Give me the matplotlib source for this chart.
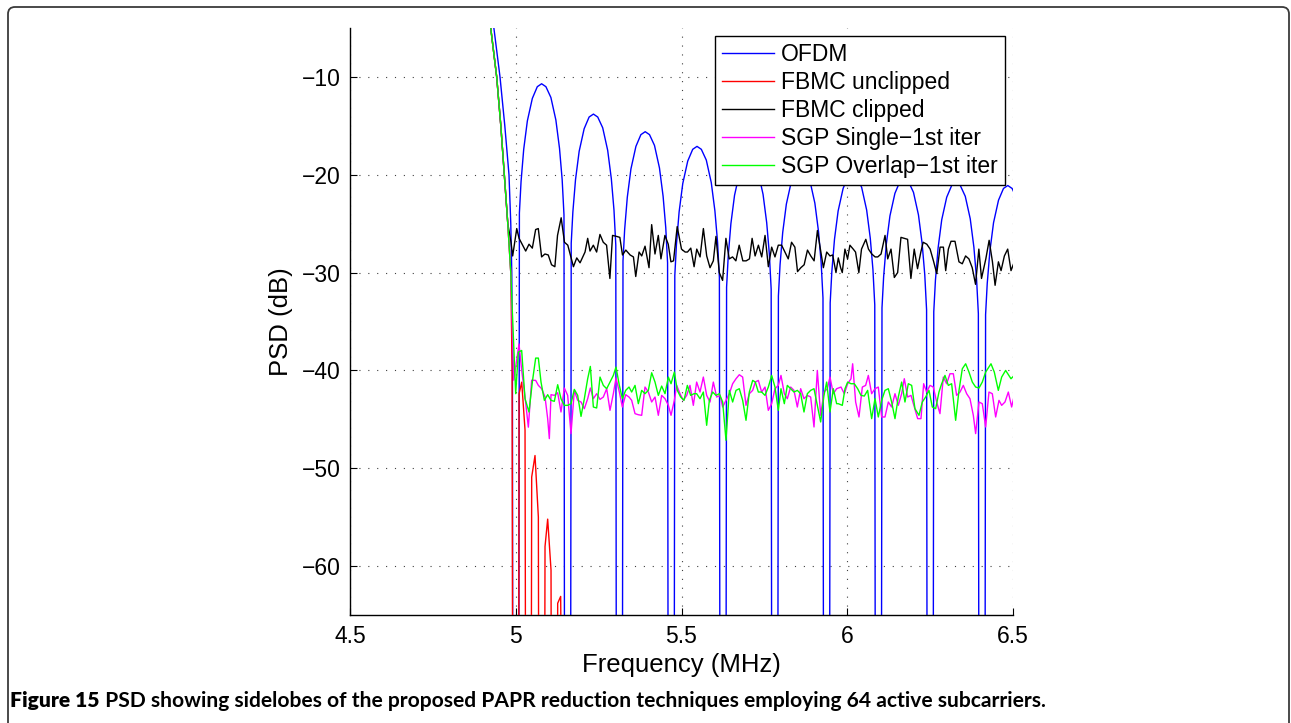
import numpy as np
import matplotlib
matplotlib.use("Agg")
import matplotlib.pyplot as plt
from matplotlib.patches import FancyBboxPatch

plt.rcParams['font.family'] = ['Liberation Sans', 'DejaVu Sans']

# ---------------- data ----------------
series_names = ["OFDM", "FBMC unclipped", "FBMC clipped",
                "SGP Single\u22121st iter", "SGP Overlap\u22121st iter"]
xtick_vals = [4.5, 5.0, 5.5, 6.0, 6.5]
xtick_labels = ["4.5", "5", "5.5", "6", "6.5"]
ytick_vals = [-60, -50, -40, -30, -20, -10]
ytick_labels = ["\u221260", "\u221250", "\u221240", "\u221230", "\u221220", "\u221210"]

# OFDM: main lobe edge + sidelobes (each lobe ends in a null far below the axis)
ofdm_main_f = [4.915, 4.934, 4.9525, 4.967, 4.9796, 4.985, 4.988, 4.990, 4.9913]
ofdm_main_p = [-1.5, -5.0, -10.0, -15.0, -20.0, -25.0, -30.0, -40.0, -90.0]

ofdm_lobes_f = [
    [5.0087, 5.011, 5.016, 5.024, 5.035, 5.050, 5.065, 5.078, 5.091, 5.106, 5.121, 5.132, 5.140, 5.1455, 5.1476],
    [5.1650, 5.1673, 5.1723, 5.1803, 5.1913, 5.2063, 5.2213, 5.2343, 5.2473, 5.2623, 5.2773, 5.2883, 5.2963, 5.3018, 5.3039],
    [5.3212, 5.3235, 5.3285, 5.3365, 5.3475, 5.3625, 5.3775, 5.3905, 5.4035, 5.4185, 5.4335, 5.4445, 5.4525, 5.4580, 5.4601],
    [5.4775, 5.4798, 5.4848, 5.4928, 5.5038, 5.5188, 5.5338, 5.5468, 5.5598, 5.5748, 5.5898, 5.6008, 5.6088, 5.6143, 5.6164],
    [5.6337, 5.6360, 5.6410, 5.6490, 5.6600, 5.6750, 5.6900, 5.7030, 5.7160, 5.7310, 5.7460, 5.7570, 5.7650, 5.7705, 5.7726],
    [5.7900, 5.7923, 5.7973, 5.8053, 5.8163, 5.8313, 5.8463, 5.8593, 5.8723, 5.8873, 5.9023, 5.9133, 5.9213, 5.9268, 5.9289],
    [5.9462, 5.9485, 5.9535, 5.9615, 5.9725, 5.9875, 6.0025, 6.0155, 6.0285, 6.0435, 6.0585, 6.0695, 6.0775, 6.0830, 6.0851],
    [6.1025, 6.1048, 6.1098, 6.1178, 6.1288, 6.1438, 6.1588, 6.1718, 6.1848, 6.1998, 6.2148, 6.2258, 6.2338, 6.2393, 6.2414],
    [6.2587, 6.2610, 6.2660, 6.2740, 6.2850, 6.3000, 6.3150, 6.3280, 6.3410, 6.3560, 6.3710, 6.3820, 6.3900, 6.3955, 6.3976],
    [6.4150, 6.4173, 6.4223, 6.4303, 6.4413, 6.4563, 6.4713, 6.4843, 6.4973, 6.5123],
]
ofdm_lobes_p = [
    [-90, -23.9, -20.7, -17.4, -14.5, -12.2, -11.0, -10.7, -11.0, -12.1, -14.4, -17.3, -20.5, -24.1, -90],
    [-90, -27.0, -23.8, -20.5, -17.6, -15.3, -14.1, -13.8, -14.1, -15.2, -17.5, -20.4, -23.6, -27.2, -90],
    [-90, -28.8, -25.6, -22.3, -19.4, -17.1, -15.9, -15.6, -15.9, -17.0, -19.3, -22.2, -25.4, -29.0, -90],
    [-90, -30.3, -27.1, -23.8, -20.9, -18.6, -17.4, -17.1, -17.4, -18.5, -20.8, -23.7, -26.9, -30.5, -90],
    [-90, -31.5, -28.3, -25.0, -22.1, -19.8, -18.6, -18.3, -18.6, -19.7, -22.0, -24.9, -28.1, -31.7, -90],
    [-90, -32.4, -29.2, -25.9, -23.0, -20.7, -19.5, -19.2, -19.5, -20.6, -22.9, -25.8, -29.0, -32.6, -90],
    [-90, -33.1, -29.9, -26.6, -23.7, -21.4, -20.2, -19.9, -20.2, -21.3, -23.6, -26.5, -29.7, -33.3, -90],
    [-90, -33.6, -30.4, -27.1, -24.2, -21.9, -20.7, -20.4, -20.7, -21.8, -24.1, -27.0, -30.2, -33.8, -90],
    [-90, -34.0, -30.8, -27.5, -24.6, -22.3, -21.1, -20.8, -21.1, -22.2, -24.5, -27.4, -30.6, -34.2, -90],
    [-90, -34.3, -31.1, -27.8, -24.9, -22.6, -21.4, -21.1, -21.4, -22.5],
]

# common band edge of the filtered signals
edge_f = [4.905, 4.9245, 4.9425, 4.955, 4.9655, 4.976, 4.985]
edge_p = [-1.0, -5.0, -10.0, -15.0, -20.0, -25.0, -30.0]

# FBMC unclipped: edge, then a few decaying spikes
fbmc_u_segments_f = [
    [4.989, 4.9915],
    [5.0085, 5.0100, 5.0180, 5.0280, 5.0305],
    [5.0459, 5.0481, 5.0581, 5.0682, 5.0702],
    [5.0863, 5.0883, 5.0963, 5.1064, 5.1084],
    [5.1245, 5.1265, 5.1355, 5.1416],
]
fbmc_u_segments_p = [
    [-40.0, -90.0],
    [-90.0, -42.4, -41.2, -46.1, -90.0],
    [-90.0, -50.9, -48.7, -55.0, -90.0],
    [-90.0, -58.0, -55.2, -60.4, -90.0],
    [-90.0, -63.8, -63.1, -90.0],
]

# FBMC clipped
fbmc_c_f = [4.905, 4.9245, 4.9425, 4.955, 4.9655, 4.976, 4.9857, 4.9907, 5.003, 5.010,
            5.030, 5.040, 5.050, 5.060, 5.068, 5.078, 5.088, 5.098, 5.108, 5.118,
            5.126, 5.137, 5.147, 5.157, 5.174, 5.184, 5.194, 5.209, 5.217, 5.224,
            5.234, 5.244, 5.254, 5.264, 5.274, 5.284, 5.292, 5.304, 5.314, 5.322,
            5.332, 5.345, 5.355, 5.362, 5.372, 5.380, 5.390, 5.402, 5.410, 5.420,
            5.430, 5.438, 5.450, 5.460, 5.468, 5.476, 5.487, 5.500, 5.511, 5.518,
            5.528, 5.538, 5.546, 5.556, 5.566, 5.576, 5.586, 5.596, 5.604, 5.614,
            5.624, 5.634, 5.644, 5.654, 5.664, 5.674, 5.685, 5.695, 5.705, 5.713,
            5.722, 5.732, 5.742, 5.752, 5.762, 5.772, 5.782, 5.792, 5.802, 5.812,
            5.822, 5.832, 5.842, 5.850, 5.860, 5.870, 5.880, 5.890, 5.900, 5.910,
            5.918, 5.928, 5.938, 5.948, 5.956, 5.966, 5.973, 5.980, 5.985, 5.993,
            6.001, 6.008, 6.018, 6.025, 6.035, 6.043, 6.056, 6.064, 6.074, 6.084,
            6.092, 6.102, 6.114, 6.122, 6.132, 6.142, 6.152, 6.162, 6.172, 6.182,
            6.192, 6.202, 6.212, 6.222, 6.229, 6.240, 6.250, 6.260, 6.270, 6.280,
            6.290, 6.297, 6.305, 6.313, 6.325, 6.337, 6.347, 6.357, 6.367, 6.377,
            6.387, 6.397, 6.405, 6.418, 6.428, 6.438, 6.446, 6.456, 6.464, 6.474,
            6.484, 6.494, 6.504]
fbmc_c_p = [-1.0, -5.0, -10.0, -15.0, -20.0, -25.0, -26.9, -28.3, -25.5, -26.5,
            -27.8, -27.1, -27.5, -25.6, -25.5, -28.4, -28.1, -28.2, -29.2, -29.4,
            -26.2, -24.4, -26.9, -27.2, -29.4, -28.5, -29.0, -27.9, -26.5, -27.8,
            -27.2, -27.9, -26.1, -26.9, -27.2, -30.6, -26.2, -26.3, -26.4, -28.2,
            -27.7, -28.2, -28.4, -30.4, -27.9, -28.3, -27.3, -29.5, -25.1, -28.1,
            -26.2, -28.6, -26.2, -27.1, -28.9, -28.8, -25.3, -27.6, -27.9, -27.9,
            -27.5, -29.4, -27.6, -28.4, -25.5, -28.3, -29.5, -28.8, -26.3, -30.0,
            -30.8, -26.5, -28.6, -28.4, -28.8, -27.2, -28.8, -28.8, -28.6, -26.5,
            -28.3, -27.2, -28.4, -26.2, -29.4, -27.4, -28.4, -27.2, -27.2, -27.9,
            -28.6, -26.9, -27.4, -29.9, -29.5, -29.2, -27.7, -28.3, -28.8, -25.7,
            -27.4, -29.5, -27.9, -28.3, -28.2, -30.0, -28.5, -29.5, -30.0, -27.6,
            -28.6, -27.2, -27.6, -27.9, -30.0, -27.6, -26.6, -27.6, -28.1, -28.4,
            -28.4, -28.1, -26.2, -28.6, -27.6, -30.5, -30.0, -26.4, -26.5, -26.6,
            -30.6, -27.6, -29.6, -27.9, -26.9, -27.1, -27.6, -28.8, -30.1, -27.4,
            -27.4, -29.8, -27.6, -26.8, -26.8, -28.9, -29.1, -28.3, -28.6, -29.5,
            -31.2, -27.6, -30.6, -28.6, -26.7, -28.9, -31.3, -28.9, -29.8, -28.3,
            -27.6, -29.8, -28.9]

# SGP Single - 1st iter
sgp_s_f = [4.905, 4.9245, 4.9425, 4.955, 4.9655, 4.976, 4.985, 4.994, 5.0098, 5.018,
           5.028, 5.038, 5.048, 5.0601, 5.0682, 5.0782, 5.0883, 5.0963, 5.1013, 5.1064,
           5.1164, 5.1265, 5.1365, 5.1466, 5.1566, 5.1667, 5.1767, 5.1868, 5.1969, 5.2069,
           5.2170, 5.2250, 5.2341, 5.2441, 5.2542, 5.2642, 5.2743, 5.2843, 5.2944, 5.3024,
           5.3125, 5.3216, 5.3316, 5.3417, 5.3497, 5.3598, 5.3698, 5.3799, 5.3899, 5.4000,
           5.4100, 5.4201, 5.4301, 5.4402, 5.4503, 5.4603, 5.4684, 5.4784, 5.4854, 5.4955,
           5.5055, 5.5156, 5.5256, 5.5357, 5.5457, 5.5558, 5.5659, 5.5759, 5.5860, 5.5960,
           5.6061, 5.6161, 5.6242, 5.6342, 5.6443, 5.6543, 5.6644, 5.6744, 5.6845, 5.6946,
           5.7046, 5.7147, 5.7227, 5.7318, 5.7418, 5.7519, 5.7619, 5.7720, 5.7820, 5.7921,
           5.8001, 5.8102, 5.8192, 5.8293, 5.8393, 5.8494, 5.8595, 5.8695, 5.8796, 5.8896,
           5.8997, 5.9097, 5.9198, 5.9298, 5.9399, 5.9479, 5.9580, 5.9680, 5.9811, 5.9912,
           6.0012, 6.0113, 6.0163, 6.0253, 6.0354, 6.0455, 6.0555, 6.0636, 6.0736, 6.0837,
           6.0937, 6.1038, 6.1138, 6.1239, 6.1339, 6.1440, 6.1540, 6.1641, 6.1721, 6.1822,
           6.1923, 6.2023, 6.2124, 6.2224, 6.2305, 6.2395, 6.2496, 6.2596, 6.2697, 6.2797,
           6.2898, 6.2998, 6.3099, 6.3200, 6.3300, 6.3401, 6.3501, 6.3602, 6.3702, 6.3803,
           6.3873, 6.3974, 6.4074, 6.4175, 6.4275, 6.4376, 6.4477, 6.4577, 6.4658, 6.4758,
           6.4859, 6.4959, 6.5040]
sgp_s_p = [-1.0, -5.0, -10.0, -15.0, -20.0, -25.0, -30.0, -41.0, -37.3, -40.0,
           -42.7, -45.8, -41.0, -41.02, -41.53, -41.87, -42.72, -44.93, -46.97, -42.48,
           -42.55, -42.28, -44.25, -41.80, -42.55, -46.46, -42.04, -43.06, -43.23, -43.91,
           -42.89, -41.80, -42.89, -42.38, -42.96, -42.72, -41.87, -44.08, -42.38, -40.78,
           -42.21, -43.74, -42.48, -42.72, -43.06, -44.42, -44.53, -44.59, -41.70, -42.21,
           -43.23, -42.72, -44.59, -42.55, -42.89, -43.57, -44.59, -43.06, -41.53, -42.38,
           -43.06, -42.55, -41.53, -43.57, -41.19, -42.21, -40.68, -42.55, -43.23, -41.19,
           -42.72, -42.55, -43.74, -43.06, -42.38, -41.36, -40.85, -40.44, -40.68, -43.57,
           -42.38, -42.04, -41.19, -41.02, -42.21, -41.70, -44.08, -43.40, -41.87, -41.53,
           -40.51, -42.38, -42.89, -41.70, -42.04, -43.74, -41.87, -42.89, -42.55, -42.72,
           -45.78, -40.00, -44.59, -42.21, -41.87, -40.68, -42.38, -41.87, -41.70, -42.38,
           -41.36, -40.85, -39.32, -43.23, -44.76, -41.70, -41.53, -40.51, -42.38, -41.87,
           -41.70, -44.76, -44.76, -43.23, -43.74, -42.38, -43.57, -42.38, -40.85, -42.72,
           -42.55, -43.74, -44.93, -44.93, -41.36, -42.21, -41.53, -41.70, -43.23, -44.42,
           -40.68, -41.36, -40.34, -40.34, -42.55, -42.21, -41.53, -42.38, -42.89, -44.59,
           -46.46, -43.23, -43.40, -45.78, -42.21, -42.38, -44.76, -43.06, -43.57, -43.23,
           -42.21, -43.74, -42.55]

# SGP Overlap - 1st iter
sgp_o_f = [4.905, 4.9245, 4.9425, 4.955, 4.9655, 4.976, 4.985, 4.9998, 5.0078, 5.0179,
           5.0279, 5.0400, 5.0500, 5.0601, 5.0682, 5.0762, 5.0863, 5.0963, 5.1064, 5.1164,
           5.1265, 5.1365, 5.1466, 5.1566, 5.1667, 5.1767, 5.1868, 5.1969, 5.2069, 5.2170,
           5.2250, 5.2341, 5.2441, 5.2542, 5.2642, 5.2743, 5.2843, 5.2944, 5.3024, 5.3125,
           5.3216, 5.3316, 5.3417, 5.3497, 5.3598, 5.3698, 5.3799, 5.3899, 5.4000, 5.4100,
           5.4201, 5.4301, 5.4402, 5.4503, 5.4603, 5.4684, 5.4784, 5.4874, 5.4975, 5.5075,
           5.5176, 5.5276, 5.5377, 5.5457, 5.5558, 5.5659, 5.5759, 5.5840, 5.5940, 5.6041,
           5.6141, 5.6242, 5.6342, 5.6443, 5.6543, 5.6644, 5.6744, 5.6845, 5.6946, 5.7046,
           5.7147, 5.7227, 5.7318, 5.7418, 5.7519, 5.7619, 5.7720, 5.7820, 5.7921, 5.8001,
           5.8102, 5.8192, 5.8293, 5.8393, 5.8494, 5.8595, 5.8695, 5.8796, 5.8896, 5.8997,
           5.9097, 5.9198, 5.9298, 5.9379, 5.9479, 5.9580, 5.9680, 5.9730, 5.9851, 5.9932,
           6.0012, 6.0113, 6.0213, 6.0314, 6.0414, 6.0515, 6.0615, 6.0736, 6.0837, 6.0937,
           6.1038, 6.1138, 6.1239, 6.1339, 6.1440, 6.1540, 6.1641, 6.1741, 6.1842, 6.1943,
           6.2043, 6.2164, 6.2264, 6.2365, 6.2466, 6.2566, 6.2667, 6.2767, 6.2848, 6.2948,
           6.3049, 6.3149, 6.3270, 6.3371, 6.3471, 6.3572, 6.3672, 6.3773, 6.3873, 6.3974,
           6.4074, 6.4175, 6.4336, 6.4436, 6.4557, 6.4658, 6.4778, 6.4939, 6.5040]
sgp_o_p = [-1.0, -5.0, -10.0, -15.0, -20.0, -25.0, -30.0, -42.38, -38.13, -37.96,
           -42.89, -44.25, -41.19, -38.74, -38.74, -41.19, -43.06, -42.48, -43.06, -43.16,
           -41.46, -42.89, -43.57, -43.57, -43.40, -41.94, -42.55, -44.70, -42.89, -40.85,
           -39.59, -43.74, -43.84, -40.68, -41.53, -41.87, -41.19, -40.51, -39.66, -41.53,
           -42.89, -42.04, -41.70, -42.21, -41.53, -43.40, -42.04, -42.38, -42.04, -40.24,
           -41.19, -42.55, -41.60, -42.38, -40.68, -41.36, -40.17, -42.04, -42.72, -43.06,
           -41.53, -42.55, -42.38, -42.38, -42.89, -42.21, -45.61, -43.06, -42.21, -42.55,
           -42.38, -43.23, -47.14, -42.04, -43.23, -42.04, -41.87, -43.06, -45.10, -42.21,
           -41.02, -41.19, -42.21, -42.21, -42.55, -41.70, -40.51, -41.70, -44.08, -41.87,
           -43.40, -41.53, -41.87, -42.21, -42.04, -42.38, -44.25, -42.38, -42.04, -41.87,
           -43.57, -45.27, -42.55, -41.19, -44.25, -41.87, -43.40, -43.40, -43.57, -41.87,
           -41.19, -41.36, -41.36, -41.87, -42.55, -42.62, -42.04, -44.93, -42.89, -44.76,
           -43.06, -42.04, -41.87, -43.23, -44.93, -42.72, -41.19, -43.23, -41.36, -41.53,
           -43.91, -44.59, -43.23, -42.72, -42.04, -43.74, -43.91, -42.21, -41.36, -40.51,
           -41.53, -41.36, -45.10, -42.04, -39.83, -39.32, -40.17, -41.19, -41.70, -41.80,
           -41.19, -40.17, -39.32, -40.17, -42.04, -40.68, -40.00, -40.85, -40.51]

caption_bold = "Figure 15"
caption_rest = " PSD showing sidelobes of the proposed PAPR reduction techniques employing 64 active subcarriers."


def join_segments(seg_f, seg_p):
    fx, py = [], []
    for f, p in zip(seg_f, seg_p):
        fx.extend(f + [np.nan])
        py.extend(p + [np.nan])
    return np.array(fx[:-1]), np.array(py[:-1])


ofdm_f, ofdm_p = join_segments([ofdm_main_f] + ofdm_lobes_f, [ofdm_main_p] + ofdm_lobes_p)
fu_f, fu_p = join_segments([edge_f + fbmc_u_segments_f[0]] + fbmc_u_segments_f[1:],
                           [edge_p + fbmc_u_segments_p[0]] + fbmc_u_segments_p[1:])

# ---------------- figure ----------------
W, H = 1291, 723
fig = plt.figure(figsize=(W / 100, H / 100), dpi=100)

# rounded frame around the figure
frame = FancyBboxPatch((0.08, -0.3), 12.81, 7.46,
                       boxstyle="round,pad=0,rounding_size=0.07",
                       transform=fig.dpi_scale_trans, fill=False,
                       edgecolor="#3a3a3a", linewidth=1.3, zorder=0)
fig.patches.append(frame)

ax = fig.add_axes([350 / W, (H - 615) / H, 663 / W, 587 / H])

lw = 1.0
ax.plot(ofdm_f, ofdm_p, color=(0, 0, 1), lw=lw, label=series_names[0], zorder=2)
ax.plot(fu_f, fu_p, color=(1, 0, 0), lw=lw, label=series_names[1], zorder=3)
ax.plot(fbmc_c_f, fbmc_c_p, color="black", lw=lw, label=series_names[2], zorder=4)
ax.plot(sgp_s_f, sgp_s_p, color=(1, 0, 1), lw=lw, label=series_names[3], zorder=5)
ax.plot(sgp_o_f, sgp_o_p, color=(0, 1, 0), lw=lw, label=series_names[4], zorder=6)

ax.set_xlim(4.5, 6.5)
ax.set_ylim(-65, -5)
ax.set_xticks(xtick_vals)
ax.set_xticklabels(xtick_labels)
ax.set_yticks(ytick_vals)
ax.set_yticklabels(ytick_labels)
ax.tick_params(direction="in", length=5, width=0.8, labelsize=16.5, pad=7,
               top=False, right=False)
for s in ("top", "right"):
    ax.spines[s].set_visible(False)
for s in ("left", "bottom"):
    ax.spines[s].set_linewidth(1.0)

ax.grid(True, linestyle=(0, (1, 7)), color="0.25", linewidth=0.8)
ax.set_axisbelow(True)

ax.set_xlabel("Frequency (MHz)", fontsize=18.5, labelpad=4)
ax.set_ylabel("PSD (dB)", fontsize=18.5, labelpad=6)

leg = ax.legend(loc="upper right", fontsize=16.5, frameon=True, fancybox=False,
                framealpha=1, edgecolor="black", borderaxespad=0.35,
                handlelength=2.3, handletextpad=0.3, labelspacing=0.22,
                borderpad=0.3)
leg.get_frame().set_linewidth(1.0)
leg.set_zorder(10)

# caption
cap_y = (H - 701) / H
t1 = fig.text(10 / W, cap_y, caption_bold, fontsize=13, fontweight="heavy",
              family=["Lato", "Liberation Sans", "DejaVu Sans"], va="center", ha="left")
fig.canvas.draw()
r = fig.canvas.get_renderer()
bb1 = t1.get_window_extent(r)
t2 = fig.text(bb1.x1 / W, cap_y, caption_rest, fontsize=13, fontweight="bold",
              family=["Lato", "Liberation Sans", "DejaVu Sans"], va="center", ha="left")
bb2 = t2.get_window_extent(r)
# scale caption to the reference width (x from 10 to ~1041 px)
scale = (1041 - 10) / (bb2.x1 - bb1.x0)
t1.set_fontsize(13 * scale)
t2.set_fontsize(13 * scale)
fig.canvas.draw()
bb1 = t1.get_window_extent(r)
t2.set_x(bb1.x1 / W)

fig.savefig("out.png", dpi=100)
